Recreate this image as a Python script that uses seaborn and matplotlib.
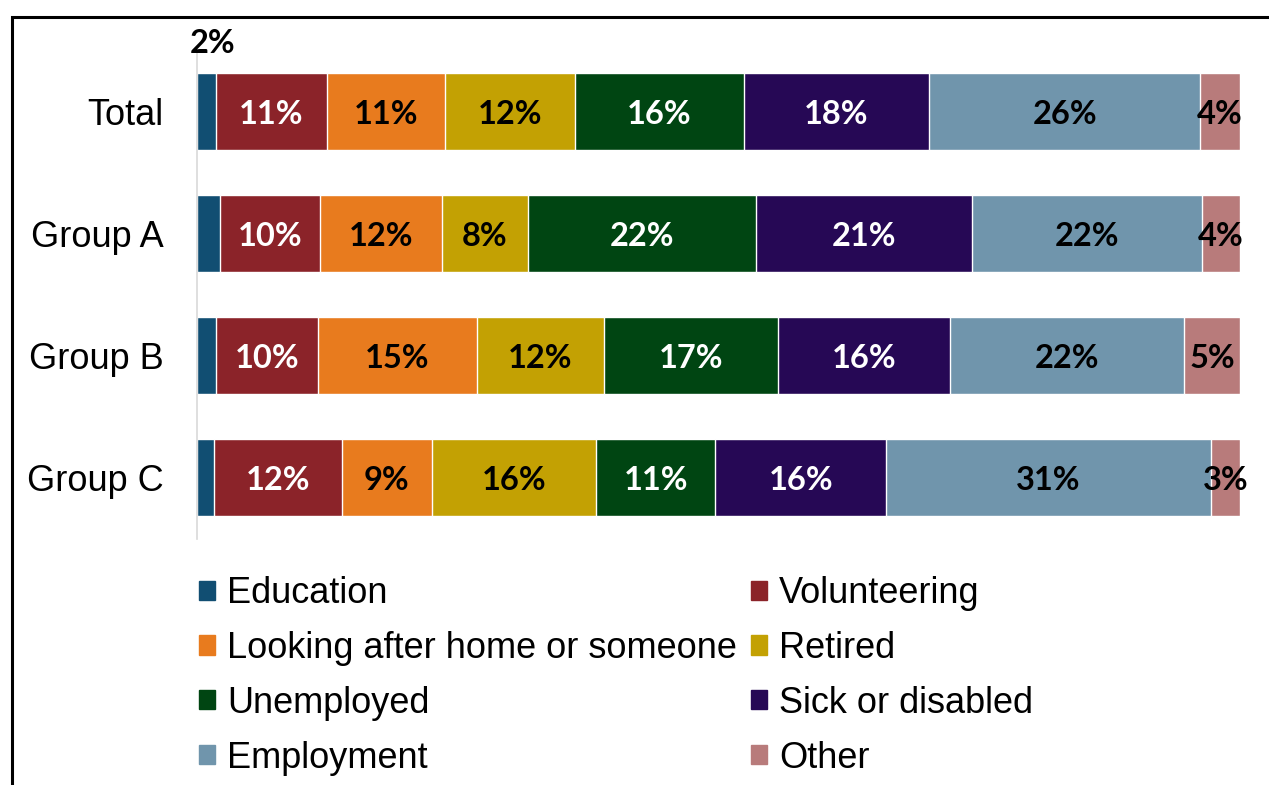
import numpy as np
import pandas as pd
import seaborn as sns
import matplotlib.pyplot as plt
from matplotlib.patches import Patch, Rectangle

groups = ["Total", "Group A", "Group B", "Group C"]
categories = ["Education", "Volunteering", "Looking after home or someone", "Retired",
              "Unemployed", "Sick or disabled", "Employment", "Other"]
education = [1.8, 2.2, 1.8, 1.6]
volunteering = [10.7, 9.6, 9.8, 12.3]
looking_after = [11.3, 11.7, 15.2, 8.6]
retired = [12.4, 8.2, 12.2, 15.8]
unemployed = [16.2, 21.9, 16.7, 11.4]
sick = [17.8, 20.7, 16.5, 16.4]
employment = [26.0, 22.1, 22.4, 31.1]
other = [3.8, 3.6, 5.4, 2.8]

colors = ["#114E72", "#8B2329", "#E87B1E", "#C3A103",
          "#004512", "#260855", "#7095AC", "#B87B7B"]
text_colors = ["black", "white", "black", "black", "white", "white", "black", "black"]

df = pd.DataFrame({"group": groups, "Education": education, "Volunteering": volunteering,
                   "Looking after home or someone": looking_after, "Retired": retired,
                   "Unemployed": unemployed, "Sick or disabled": sick,
                   "Employment": employment, "Other": other})
cum = df[categories].cumsum(axis=1)

sns.set_style("white")
plt.rcParams["text.color"] = "black"
plt.rcParams["ytick.color"] = "black"
fig = plt.figure(figsize=(12.69, 7.85), dpi=100)
ax = fig.add_axes([197 / 1269, 1 - 539 / 785, (1240 - 197) / 1269, (539 - 50) / 785])

# stacked bars: draw the running totals from the right end back to the left
for i in range(len(categories) - 1, -1, -1):
    sns.barplot(x=cum[categories[i]], y=df["group"], orient="h", color=colors[i],
                saturation=1, width=0.63, ax=ax)

lab_font = dict(family="Lato", fontweight="bold", fontsize=23.5)
for i, cat in enumerate(categories):
    for j, g in enumerate(groups):
        v = df.loc[j, cat]
        xc = cum.loc[j, cat] - v / 2
        if i == 0:
            if j == 0:
                ax.text(xc + 0.6, j - 0.555, f"{round(v)}%", ha="center", va="center",
                        color="black", **lab_font)
            continue
        ax.text(xc, j + 0.025, f"{round(v)}%", ha="center", va="center",
                color=text_colors[i], **lab_font)

ax.set_xlim(0, 100)
ax.set_ylim(3.5, -0.5)
ax.set_xlabel("")
ax.set_ylabel("")
ax.set_xticks([])
ax.tick_params(axis="y", length=0, pad=24)
for lbl in ax.get_yticklabels():
    lbl.set_fontfamily("Liberation Sans")
    lbl.set_fontsize(26)
for s in ["top", "right", "bottom"]:
    ax.spines[s].set_visible(False)
ax.spines["left"].set_color("#D9D9D9")
ax.spines["left"].set_linewidth(1.2)

# legend reads row by row, matplotlib fills column by column
order = [0, 2, 4, 6, 1, 3, 5, 7]
handles = [Patch(facecolor=colors[k], edgecolor=colors[k]) for k in order]
fig.legend(handles, [categories[k] for k in order], ncol=2, loc="upper left",
           bbox_to_anchor=(199 / 1269, 1 - 576 / 785), frameon=False,
           prop=dict(family="Liberation Sans", size=26),
           handlelength=0.44, handleheight=0.44, handletextpad=0.33,
           columnspacing=0.4, labelspacing=0.55, borderpad=0, borderaxespad=0)

fig.add_artist(Rectangle((12 / 1269, -0.05), 1.1, 1 - 17 / 785 + 0.05,
                         transform=fig.transFigure, fill=False, lw=2.2,
                         edgecolor="black"))

fig.savefig("out.png", dpi=100)
